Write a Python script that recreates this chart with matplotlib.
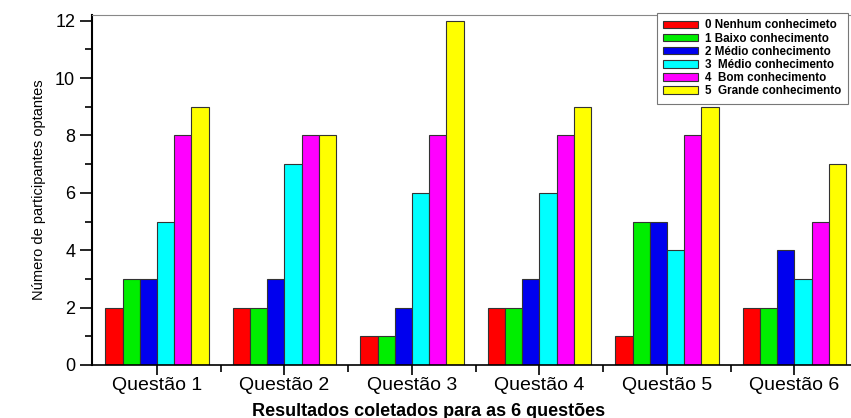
import numpy as np
import matplotlib
matplotlib.use('Agg')
import matplotlib.pyplot as plt
from matplotlib.ticker import MultipleLocator

plt.rcParams['font.family'] = ['Liberation Sans', 'DejaVu Sans']

# data
questions = ['Questão 1', 'Questão 2', 'Questão 3', 'Questão 4', 'Questão 5', 'Questão 6']
labels = ['0 Nenhum conhecimeto', '1 Baixo conhecimento', '2 Médio conhecimento',
          '3  Médio conhecimento', '4  Bom conhecimento', '5  Grande conhecimento']
nenhum = [2, 2, 1, 2, 1, 2]
baixo = [3, 2, 1, 2, 5, 2]
medio2 = [3, 3, 2, 3, 5, 4]
medio3 = [5, 7, 6, 6, 4, 3]
bom = [8, 8, 8, 8, 8, 5]
grande = [9, 8, 12, 9, 9, 7]
series = [nenhum, baixo, medio2, medio3, bom, grande]
colors = ['#ff0000', '#00ee00', '#0000ee', '#00ffff', '#ff00ff', '#ffff00']

fig = plt.figure(figsize=(8.51, 4.18), dpi=100)
ax = fig.add_axes([0.108, 0.127, 0.905, 0.837])

x = np.arange(1, len(questions) + 1)
w = 0.135
for i, (vals, c, lab) in enumerate(zip(series, colors, labels)):
    ax.bar(x + (i - 2.5) * w, vals, width=w, color=c, edgecolor='#333333',
           linewidth=0.8, label=lab)

ax.set_xlim(0.49, 6.53)
ax.set_ylim(0, 12.2)
ax.set_xticks(x)
ax.set_xticklabels(questions, fontsize=14)
ax.set_xticks(x[:-1] + 0.5, minor=True)
ax.yaxis.set_major_locator(MultipleLocator(2))
ax.yaxis.set_minor_locator(MultipleLocator(1))
ax.tick_params(axis='y', which='major', length=9, width=1.2, labelsize=13, pad=3)
ax.tick_params(axis='y', which='minor', length=5, width=1.2)
ax.tick_params(axis='x', which='major', length=7, width=1.2, pad=2)
ax.tick_params(axis='x', which='minor', length=5, width=1.2)

ax.spines['right'].set_visible(False)
ax.spines['top'].set_color('#888888')
ax.spines['top'].set_linewidth(0.8)
ax.spines['left'].set_linewidth(1.5)
ax.spines['bottom'].set_linewidth(1.2)

ax.set_ylabel('Número de participantes optantes', fontsize=10.5)
ax.yaxis.set_label_coords(-0.06, 0.5)
ax.set_xlabel('Resultados coletados para as 6 questões', fontsize=13, fontweight='bold')
ax.xaxis.set_label_coords(0.437, -0.108)

leg = fig.legend(loc='upper left', bbox_to_anchor=(657 / 851, 1 - 13 / 418),
                 borderaxespad=0, fancybox=False, edgecolor='#777777', framealpha=1,
                 prop={'size': 8.4, 'weight': 'bold'}, labelspacing=0.1,
                 handlelength=3.0, handleheight=0.6, handletextpad=0.6,
                 borderpad=0.55)
leg.get_frame().set_linewidth(0.8)

fig.savefig('out.png', dpi=100)
